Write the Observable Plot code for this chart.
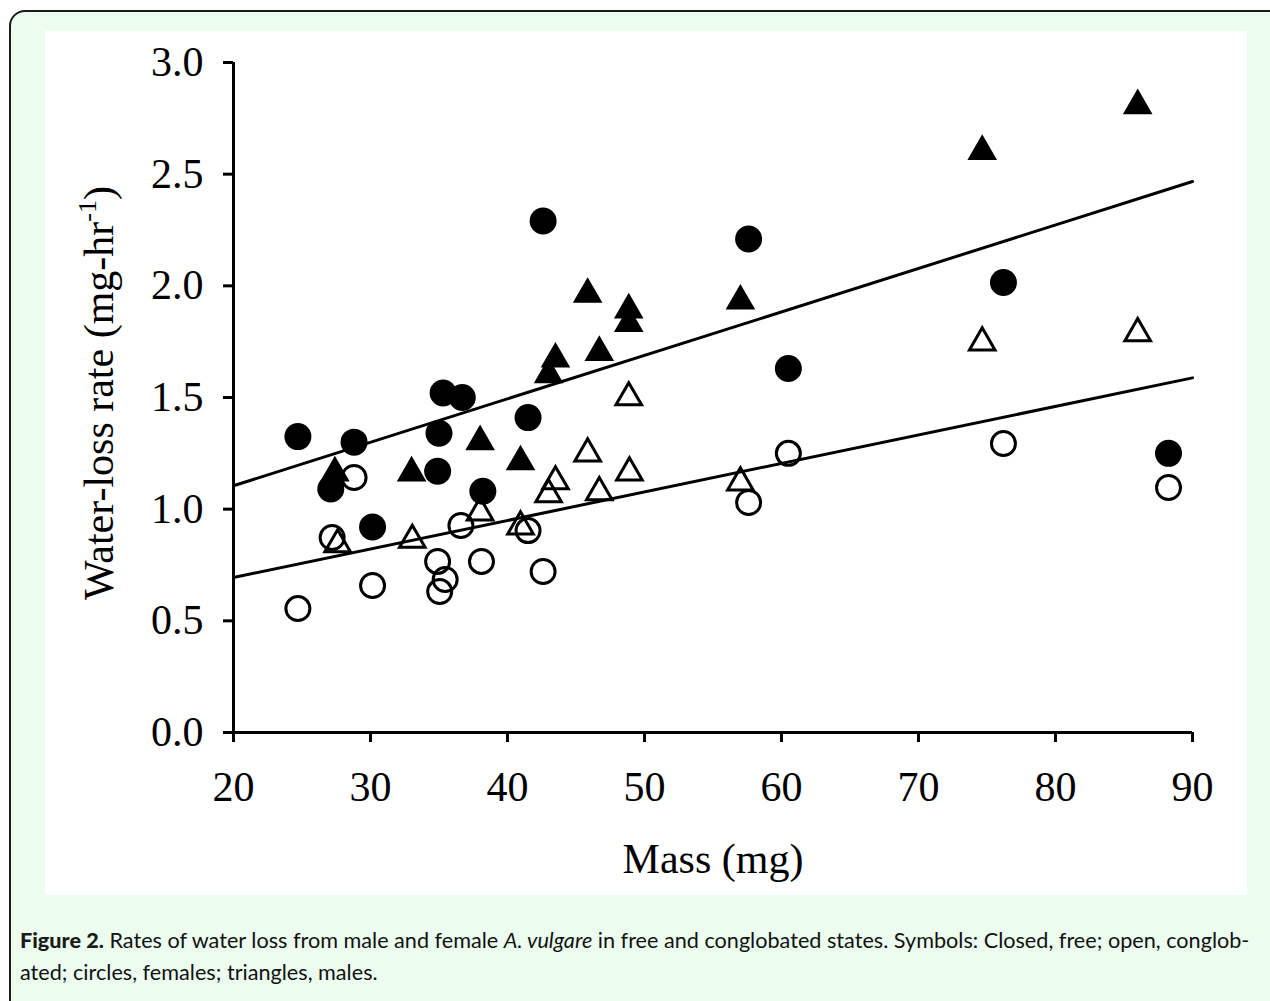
<!DOCTYPE html>
<html><head><meta charset="utf-8">
<script src="https://cdn.jsdelivr.net/npm/d3@7"></script>
<script src="https://cdn.jsdelivr.net/npm/@observablehq/plot@0.6"></script>
<style>
html,body{margin:0;padding:0;width:1270px;height:1001px;overflow:hidden;background:#fff;}
#frame{position:absolute;left:9px;top:10px;width:1300px;height:1030px;border:2px solid #1a1a1a;border-radius:16px;background:#ecfdf0;box-sizing:border-box;}
#panel{position:absolute;left:45px;top:31px;width:1202px;height:864px;background:#fff;}
#caption{position:absolute;left:20px;top:924px;font-family:Lato,"Open Sans",sans-serif;font-size:17px;line-height:32px;color:#111;white-space:nowrap;}
#caption b{font-weight:900;color:#1b1b1b;}
#l1{display:inline-block;}
</style></head><body>
<div id="frame"></div>
<div id="panel"></div>
<div id="caption"><span id="l1"><b>Figure 2.</b> Rates of water loss from male and female <i>A. vulgare</i> in free and conglobated states. Symbols: Closed, free; open, conglob-</span><br><span id="l2">ated; circles, females; triangles, males.</span></div>
<script>
// Axis ticks
const xTicks = [20, 30, 40, 50, 60, 70, 80, 90];
const yTicks = [0.0, 0.5, 1.0, 1.5, 2.0, 2.5, 3.0];
const xDomain = [20, 90];
const yDomain = [0, 3];

// Females (circles)
const femaleMassFree    = [24.7, 27.1, 28.8, 30.15, 35.0, 34.9, 35.3, 36.7, 38.2, 41.5, 42.6, 57.6, 60.5, 76.2, 88.25];
const femaleRateFree    = [1.325, 1.09, 1.30, 0.92, 1.34, 1.17, 1.52, 1.50, 1.08, 1.41, 2.29, 2.21, 1.63, 2.015, 1.25];
const femaleMassConglob = [24.7, 27.2, 28.8, 30.15, 34.9, 35.05, 35.45, 36.6, 38.1, 41.5, 42.6, 57.6, 60.5, 76.2, 88.25];
const femaleRateConglob = [0.555, 0.873, 1.142, 0.658, 0.766, 0.631, 0.685, 0.927, 0.766, 0.904, 0.721, 1.03, 1.25, 1.294, 1.097];

// Males (triangles)
const maleMassFree    = [27.4, 33.0, 38.0, 40.95, 43.0, 43.5, 45.85, 46.7, 48.85, 48.85, 57.0, 74.65, 86.0];
const maleRateFree    = [1.18, 1.18, 1.32, 1.23, 1.62, 1.69, 1.98, 1.72, 1.91, 1.85, 1.95, 2.62, 2.825];
const maleMassConglob = [27.6, 33.05, 38.0, 40.95, 43.0, 43.5, 45.85, 46.7, 48.85, 48.9, 57.0, 74.65, 86.0];
const maleRateConglob = [0.86, 0.88, 1.003, 0.94, 1.084, 1.142, 1.267, 1.093, 1.518, 1.182, 1.137, 1.764, 1.805];

// Regression lines (fitted values at the ends of the mass range)
const fitMass    = [20, 90];
const freeFit    = [1.105, 2.467];
const conglobFit = [0.694, 1.588];

const serif = "'Liberation Serif', 'Times New Roman', serif";

const plot = Plot.plot({
  width: 1202, height: 864,
  marginLeft: 188, marginRight: 55, marginTop: 31, marginBottom: 163,
  style: {background: "white", color: "black", fontFamily: serif, overflow: "visible"},
  x: {domain: xDomain},
  y: {domain: yDomain},
  marks: [
    Plot.line(fitMass, {x: d => d, y: (d, i) => freeFit[i], stroke: "black", strokeWidth: 3}),
    Plot.line(fitMass, {x: d => d, y: (d, i) => conglobFit[i], stroke: "black", strokeWidth: 3}),
    Plot.dot(femaleMassConglob, {x: d => d, y: (d, i) => femaleRateConglob[i], symbol: "circle", r: 12, stroke: "black", strokeWidth: 3, fill: "none"}),
    Plot.dot(maleMassConglob, {x: d => d, y: (d, i) => maleRateConglob[i], symbol: "triangle", r: 9.5, stroke: "black", strokeWidth: 3, fill: "none", dy: 4, strokeLinejoin: "miter"}),
    Plot.dot(femaleMassFree, {x: d => d, y: (d, i) => femaleRateFree[i], symbol: "circle", r: 13.5, fill: "black"}),
    Plot.dot(maleMassFree, {x: d => d, y: (d, i) => maleRateFree[i], symbol: "triangle", r: 11, fill: "black", dy: 4}),
    Plot.ruleX([xDomain[0]], {y1: yDomain[0], y2: yDomain[1], stroke: "black", strokeWidth: 3}),
    Plot.ruleY([yDomain[0]], {x1: xDomain[0], x2: xDomain[1], stroke: "black", strokeWidth: 3}),
    Plot.axisX({ticks: xTicks, tickSize: 10, tickPadding: 29, strokeWidth: 3, fontSize: 42, tickFormat: d => String(d), label: null}),
    Plot.axisY({ticks: yTicks, tickSize: 10, tickPadding: 20, strokeWidth: 3, fontSize: 42, tickFormat: d => d.toFixed(1), label: null})
  ]
});

const svg = d3.select(plot);
svg.append("text").attr("x", 668).attr("y", 842).attr("text-anchor", "middle")
  .attr("font-size", 42).attr("fill", "black").text("Mass (mg)");
const yl = svg.append("text").attr("transform", "translate(68,362) rotate(-90)")
  .attr("text-anchor", "middle").attr("font-size", 42).attr("fill", "black");
yl.append("tspan").text("Water-loss rate (mg-hr");
yl.append("tspan").attr("font-size", 26).attr("dy", -17).text("-1");
yl.append("tspan").attr("dy", 17).text(")");

document.getElementById("panel").appendChild(plot);

function fitCaption() {
  const cap = document.getElementById("caption");
  cap.style.fontSize = "17px";
  const w = document.getElementById("l1").getBoundingClientRect().width;
  cap.style.fontSize = (17 * 1230 / w).toFixed(2) + "px";
}
fitCaption();
if (document.fonts && document.fonts.ready) document.fonts.ready.then(fitCaption);
</script>
</body></html>
